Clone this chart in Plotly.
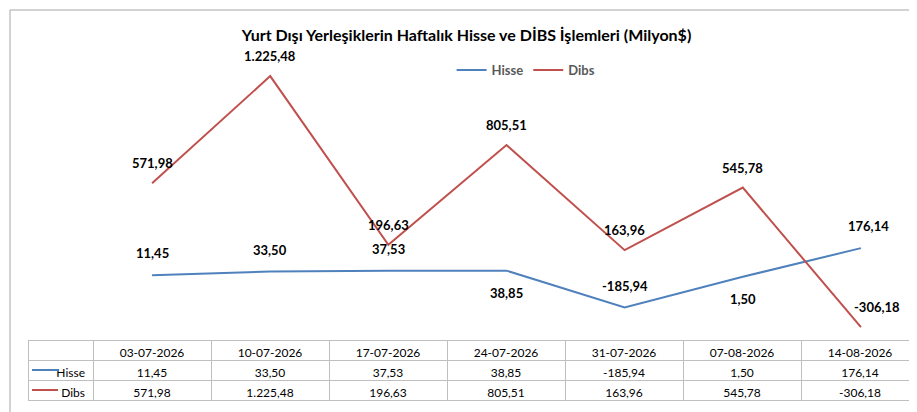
import plotly.graph_objects as go

W, H = 917, 412

dates = ['03-07-2026', '10-07-2026', '17-07-2026', '24-07-2026', '31-07-2026', '07-08-2026', '14-08-2026']
hisse = [11.45, 33.50, 37.53, 38.85, -185.94, 1.50, 176.14]
dibs = [571.98, 1225.48, 196.63, 805.51, 163.96, 545.78, -306.18]

hisse_up = [True, True, True, False, True, False, True]

BLUE = '#4F81BD'
RED = '#C0504D'


def tr(v):
    # Turkish number format: 1.225,48
    s = f'{v:,.2f}'
    return s.replace(',', 'X').replace('.', ',').replace('X', '.')


fig = go.Figure()

fig.add_trace(go.Scatter(x=dates, y=hisse, name='Hisse', mode='lines',
                         line=dict(color=BLUE, width=2)))
fig.add_trace(go.Scatter(x=dates, y=dibs, name='Dibs', mode='lines',
                         line=dict(color=RED, width=2)))

lab_font = dict(size=13, color='black', family='Lato', weight='bold')
annotations = []
for i, d in enumerate(dates):
    annotations.append(dict(x=d, y=hisse[i], text=tr(hisse[i]), showarrow=False,
                            yshift=22 if hisse_up[i] else -22,
                            xshift=8 if i == 6 else 0, font=lab_font))
    annotations.append(dict(x=d, y=dibs[i], text=tr(dibs[i]), showarrow=False,
                            yshift=20, xshift=16 if i == 6 else 0, font=lab_font))

# data table under the chart
fig.add_trace(go.Table(
    domain=dict(x=[20 / W, 912 / W], y=[0, (H - 332) / H]),
    columnwidth=[65] + [118] * 7,
    header=dict(values=[''] + dates, height=20, align='center',
                fill_color='white', line_color='#BFBFBF',
                font=dict(size=12, color='black', family='Lato')),
    cells=dict(values=[['Hisse', 'Dibs']] + [[tr(h), tr(d)] for h, d in zip(hisse, dibs)],
               height=20, align=['right'] + ['center'] * 7,
               fill_color='white', line_color='#BFBFBF',
               font=dict(size=12, color='black', family='Lato')),
))

shapes = [
    dict(type='rect', xref='paper', yref='paper', x0=2 / W, x1=914 / W, y0=2 / H, y1=410 / H,
         line=dict(color='#A6A6A6', width=1)),
    dict(type='line', xref='paper', yref='paper', x0=24 / W, x1=50 / W,
         y0=(H - 362) / H, y1=(H - 362) / H, line=dict(color=BLUE, width=2)),
    dict(type='line', xref='paper', yref='paper', x0=24 / W, x1=50 / W,
         y0=(H - 382) / H, y1=(H - 382) / H, line=dict(color=RED, width=2)),
]

fig.update_layout(
    width=W, height=H,
    margin=dict(l=0, r=0, t=0, b=0),
    paper_bgcolor='white', plot_bgcolor='white',
    font=dict(family='Lato', color='black'),
    title=dict(text='<b>Yurt Dışı Yerleşiklerin Haftalık Hisse ve DİBS İşlemleri (Milyon$)</b>',
               x=0.5, xanchor='center', y=1 - 27 / H, yanchor='middle',
               font=dict(size=16, color='black')),
    xaxis=dict(domain=[85 / W, 912 / W], range=[-0.5, 6.5], showticklabels=False,
               showgrid=False, zeroline=False, showline=False, ticks=''),
    yaxis=dict(domain=[(H - 330) / H, (H - 40) / H], range=[-372, 1397],
               visible=False),
    legend=dict(orientation='h', x=0.565, xanchor='center', y=1 - 62 / H, yanchor='middle',
                font=dict(size=13, color='#595959', weight='bold')),
    shapes=shapes,
    annotations=annotations,
)

fig.write_html('out.html')
